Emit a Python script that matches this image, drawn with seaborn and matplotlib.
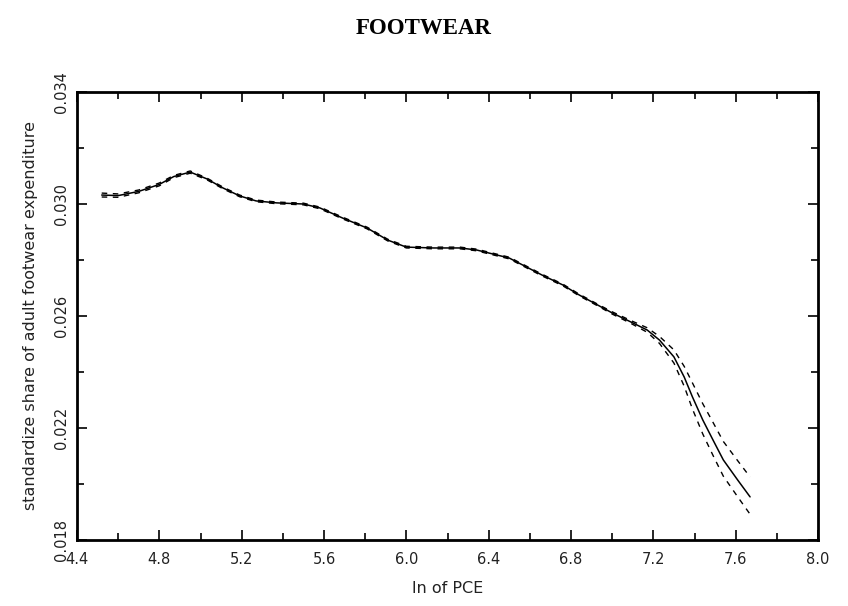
import matplotlib
matplotlib.use("Agg")
import matplotlib.pyplot as plt
import seaborn as sns
import pandas as pd
import numpy as np
from matplotlib.ticker import MultipleLocator, FixedLocator, FormatStrFormatter

sns.set_style("ticks")
plt.rcParams['font.family'] = ['DejaVu Sans']

# data
ln_pce = [4.52, 4.60, 4.70, 4.80, 4.87, 4.95, 5.03, 5.11, 5.19, 5.27, 5.37, 5.50,
          5.58, 5.69, 5.81, 5.91, 6.00, 6.13, 6.26, 6.34, 6.50, 6.66, 6.76, 6.84,
          6.93, 7.00, 7.09, 7.17, 7.23, 7.30, 7.35, 7.39, 7.44, 7.49, 7.54, 7.61, 7.67]
share = [0.03032, 0.03030, 0.03045, 0.03070, 0.03098, 0.03114, 0.03090, 0.03057,
         0.03029, 0.03011, 0.03004, 0.03000, 0.02986, 0.02950, 0.02914, 0.02871,
         0.02846, 0.02843, 0.02843, 0.02836, 0.02807, 0.02746, 0.02711, 0.02675,
         0.02639, 0.02611, 0.02579, 0.02550, 0.02514, 0.02454, 0.02382, 0.02311,
         0.02229, 0.02157, 0.02086, 0.02014, 0.01954]
upper_dev = [0.00007, 0.00006, 0.00005, 0.00005, 0.00004, 0.00004, 0.00003, 0.00003,
             0.00003, 0.00003, 0.00003, 0.00003, 0.00003, 0.00003, 0.00003, 0.00003,
             0.00003, 0.00003, 0.00003, 0.00003, 0.00003, 0.00003, 0.00003, 0.00003,
             0.00003, 0.00004, 0.00005, 0.00008, 0.00013, 0.00025, 0.00038, 0.00050,
             0.00058, 0.00063, 0.00066, 0.00069, 0.00071]
lower_dev = [0.00007, 0.00006, 0.00005, 0.00005, 0.00004, 0.00004, 0.00003, 0.00003,
             0.00003, 0.00003, 0.00003, 0.00003, 0.00003, 0.00003, 0.00003, 0.00003,
             0.00003, 0.00003, 0.00003, 0.00003, 0.00003, 0.00003, 0.00003, 0.00003,
             0.00003, 0.00004, 0.00005, 0.00008, 0.00012, 0.00022, 0.00033, 0.00043,
             0.00050, 0.00055, 0.00058, 0.00060, 0.00062]
x_ticks = [4.4, 4.8, 5.2, 5.6, 6.0, 6.4, 6.8, 7.2, 7.6, 8.0]
y_ticks = [0.018, 0.022, 0.026, 0.030, 0.034]

df = pd.DataFrame({"x": ln_pce, "y": share})
df["upper"] = df["y"] + np.array(upper_dev)
df["lower"] = df["y"] - np.array(lower_dev)

fig = plt.figure(figsize=(8.48, 6.06), dpi=100)
ax = fig.add_axes([77/848, 66/606, 741/848, 448/606])

sns.lineplot(data=df, x="x", y="upper", ax=ax, color="black", lw=1.0,
             linestyle=(0, (4, 4)))
sns.lineplot(data=df, x="x", y="lower", ax=ax, color="black", lw=1.0,
             linestyle=(0, (4, 4)))
sns.lineplot(data=df, x="x", y="y", ax=ax, color="black", lw=1.1)

ax.set_xlim(4.4, 8.0)
ax.set_ylim(0.018, 0.034)
ax.xaxis.set_major_locator(FixedLocator(x_ticks))
ax.xaxis.set_minor_locator(MultipleLocator(0.2))
ax.yaxis.set_major_locator(FixedLocator(y_ticks))
ax.yaxis.set_minor_locator(MultipleLocator(0.002))
ax.xaxis.set_major_formatter(FormatStrFormatter('%.1f'))
ax.yaxis.set_major_formatter(FormatStrFormatter('%.3f'))

ax.tick_params(which='both', direction='in', top=True, right=True,
               color='black', width=1.2, labelsize=10.5, labelcolor='#222222')
ax.tick_params(which='major', length=7)
ax.tick_params(which='minor', length=5)
ax.tick_params(axis='x', pad=9)
ax.tick_params(axis='y', pad=6)
for lab in ax.get_yticklabels():
    lab.set_rotation(90)
    lab.set_va('center')
for s in ax.spines.values():
    s.set_linewidth(2.0)
    s.set_color('black')

ax.set_xlabel("ln of PCE", fontsize=11.5, labelpad=10, color='#222222')
ax.set_ylabel("standardize share of adult footwear expenditure", fontsize=11.5,
              labelpad=11, color='#222222')
fig.text(0.5, 1 - 28/606, "FOOTWEAR", ha='center', va='center', color='black',
         fontsize=16.5, fontweight='bold', family=['Liberation Serif', 'DejaVu Serif'])

fig.savefig("out.png", dpi=100)
